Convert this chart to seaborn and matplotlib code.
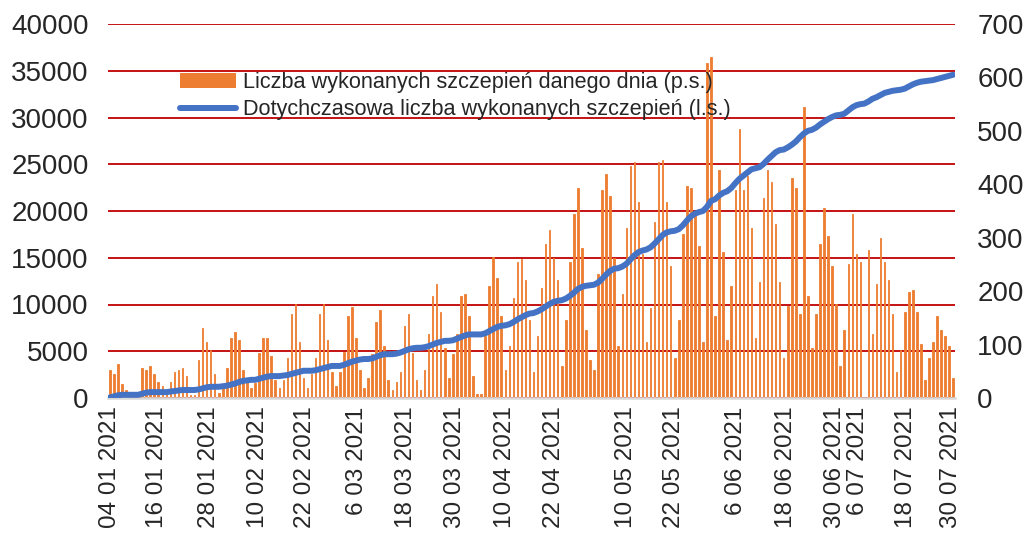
import numpy as np
import pandas as pd
import matplotlib
matplotlib.use("Agg")
import matplotlib.pyplot as plt
import seaborn as sns
from matplotlib.patches import Patch
from matplotlib.lines import Line2D

# ---------------- data ----------------
daily_doses = [
    2950, 2535, 3600, 1470, 850, 300, 200, 300, 3170, 2960,
    3390, 2530, 1710, 1250, 400, 1710, 2780, 2990, 3210, 2350,
    300, 300, 4060, 7450, 5990, 5130, 2570, 500, 1500, 3210,
    6380, 7020, 6170, 2990, 1800, 1070, 1570, 4850, 6380, 6380,
    4490, 1920, 1070, 1920, 4240, 8950, 10020, 5950, 2100, 1070,
    2570, 4240, 8950, 10020, 6170, 2750, 1280, 2750, 4920, 8730,
    9770, 6380, 3000, 1070, 2140, 4670, 8130, 9380, 5530, 1920,
    820, 1680, 2750, 7670, 8950, 4780, 1890, 820, 2960, 6810,
    10870, 12160, 9160, 5310, 2100, 4670, 6810, 10870, 11090, 8730,
    2320, 390, 390, 6600, 11940, 15040, 12800, 8730, 2960, 5530,
    10660, 14510, 14830, 12580, 8310, 2750, 6600, 11730, 16440, 17930,
    14940, 12580, 3390, 8310, 14510, 19640, 22420, 16010, 7240, 4030,
    2960, 13230, 22210, 23920, 21570, 14940, 5530, 11090, 18150, 24780,
    25200, 20930, 15370, 5950, 9590, 18790, 25200, 25420, 20930, 14080,
    4240, 8310, 17500, 22640, 22420, 19860, 16220, 5950, 35830, 36470,
    8730, 24350, 15580, 6170, 11940, 22210, 28770, 22210, 23710, 18150,
    6380, 12370, 21350, 24350, 23070, 18570, 12370, 4240, 9800, 23490,
    22420, 8950, 31120, 10870, 5310, 8950, 16440, 20290, 17290, 14080,
    10020, 3390, 7240, 14300, 19640, 15370, 14510, 0, 15790, 6810,
    12160, 17080, 14510, 12580, 8950, 2750, 5100, 9160, 11300, 11520,
    9160, 5740, 1890, 4240, 5950, 8730, 7240, 6600, 5530, 2100,
]

cumulative_doses = [
    1, 3, 5, 6, 6, 6, 6, 6,
    8, 10, 11, 11, 11, 11, 11,
    12, 13, 14, 15, 15, 15, 15,
    16, 18, 20, 21, 21, 21, 22,
    23, 25, 27, 30, 32, 33, 34,
    34, 36, 38, 40, 41, 41, 41,
    42, 43, 45, 47, 49, 51, 51,
    51, 52, 54, 56, 58, 60, 60,
    60, 62, 65, 68, 70, 72, 73,
    73, 74, 77, 80, 82, 82, 82,
    83, 85, 88, 91, 93, 94, 94,
    95, 97, 100, 103, 105, 107, 107,
    108, 111, 114, 117, 119, 119, 119,
    119, 121, 125, 129, 133, 135, 136,
    138, 142, 147, 151, 155, 158, 159,
    162, 166, 171, 176, 180, 182, 183,
    186, 191, 197, 204, 208, 210, 211,
    212, 216, 223, 231, 238, 242, 243,
    246, 251, 259, 267, 273, 276, 278,
    282, 289, 297, 305, 310, 312, 313,
    316, 323, 332, 340, 345, 348, 350,
    358, 369, 372, 379, 384, 387, 393,
    402, 410, 416, 422, 428, 430, 432,
    438, 446, 453, 460, 464, 465, 469,
    474, 480, 488, 495, 500, 502, 506,
    512, 517, 522, 526, 529, 530, 532,
    538, 544, 548, 550, 551, 555, 560,
    563, 567, 571, 573, 575, 576, 577,
    579, 583, 587, 590, 592, 593, 594,
    595, 597, 599, 601, 603, 605,
]

tick_labels = ["04 01 2021", "16 01 2021", "28 01 2021", "10 02 2021", "22 02 2021",
               "6 03 2021", "18 03 2021", "30 03 2021", "10 04 2021", "22 04 2021",
               "10 05 2021", "22 05 2021", "6 06 2021", "18 06 2021", "30 06 2021",
               "6 07 2021", "18 07 2021", "30 07 2021"]

left_ticks = [0, 5000, 10000, 15000, 20000, 25000, 30000, 35000, 40000]
right_ticks = [0, 100, 200, 300, 400, 500, 600, 700]

bar_label = "Liczba wykonanych szczepień danego dnia (p.s.)"
line_label = "Dotychczasowa liczba wykonanych szczepień (l.s.)"

# ---------------- layout ----------------
# category positions (bar index) where the date labels sit in the reference
tick_pos = [0, 11.8, 24.5, 36.8, 48.4, 61.2, 73.3, 85.6, 98, 110,
            127.8, 139.8, 155.3, 167.6, 179.8, 185.3, 197.4, 208.5]

# ---------------- build ----------------
n = len(daily_doses)
df = pd.DataFrame({"day": np.arange(n), "daily": daily_doses})
dfl = pd.DataFrame({"day": np.arange(len(cumulative_doses)), "cum": cumulative_doses})

sns.set_theme(style="white")
plt.rcParams["font.family"] = ["Liberation Sans", "DejaVu Sans"]

ORANGE = "#ED7D31"
BLUE = "#4472C4"
GRID = "#C00000"

fig = plt.figure(figsize=(10.26, 5.33), dpi=100)
ax = fig.add_axes([108/1026, 1 - 398/533, (955-108)/1026, (398-24)/533])

sns.barplot(data=df, x="day", y="daily", color=ORANGE, width=0.38,
            saturation=1, ax=ax, native_scale=True,
            edgecolor=ORANGE, linewidth=0.6)

ax.set_xlim(-0.45, n - 0.55)
ax.set_ylim(0, 40000)
ax.set_yticks(left_ticks)
ax.set_yticklabels([str(v) for v in left_ticks], fontsize=20)
ax.yaxis.grid(True, color=GRID, linewidth=1.3)
ax.set_axisbelow(True)
ax.set_xticks(tick_pos)
ax.set_xticklabels(tick_labels, rotation=90, fontsize=17.5)
ax.tick_params(axis="x", length=0, pad=6)
ax.tick_params(axis="y", length=0, pad=14)
ax.set_xlabel("")
ax.set_ylabel("")
for s in ["top", "left", "right"]:
    ax.spines[s].set_visible(False)
ax.spines["bottom"].set_color("#D9D9D9")
ax.spines["bottom"].set_linewidth(1.8)

ax2 = ax.twinx()
sns.lineplot(data=dfl, x="day", y="cum", color=BLUE, linewidth=4.3, ax=ax2,
             solid_capstyle="round")
ax2.set_ylim(0, 700)
ax2.set_yticks(right_ticks)
ax2.set_yticklabels([str(v) for v in right_ticks], fontsize=20)
ax2.tick_params(axis="y", length=0, pad=16)
ax2.set_ylabel("")
ax2.set_xlabel("")
ax2.grid(False)
for s in ["top", "left", "right", "bottom"]:
    ax2.spines[s].set_visible(False)
ax2.set_xlim(-0.45, n - 0.55)

handles = [Patch(facecolor=ORANGE, edgecolor="none"),
           Line2D([0], [0], color=BLUE, linewidth=4.3)]
leg = fig.legend(handles, [bar_label, line_label], loc="upper left",
                 bbox_to_anchor=(180/1026, 1 - 72/533), frameon=False,
                 fontsize=15.6, handlelength=2.6, handleheight=0.75,
                 handletextpad=0.3, labelspacing=0.3, borderpad=0,
                 borderaxespad=0)

fig.savefig("out.png", dpi=100)
